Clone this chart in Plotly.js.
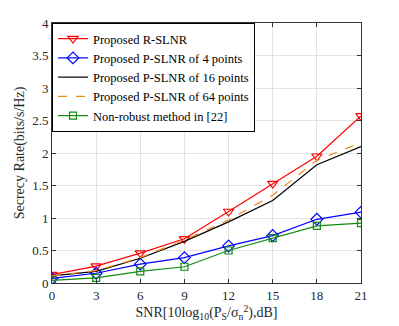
<!DOCTYPE html>
<html>
<head>
<meta charset="utf-8">
<script src="https://cdn.plot.ly/plotly-3.0.1.min.js"></script>
<style>
	body { margin: 0; background: #fff; }
	#chart { width: 399px; height: 326px; }
</style>
</head>
<body>
<div id="chart"></div>
<script>
const snr = [0, 3, 6, 9, 12, 15, 18, 21];

const rSlnr = [0.13, 0.26, 0.46, 0.68, 1.10, 1.53, 1.95, 2.57];
const pSlnr4 = [0.07, 0.15, 0.29, 0.39, 0.57, 0.73, 0.98, 1.09];
const pSlnr16 = [0.11, 0.18, 0.38, 0.64, 0.94, 1.27, 1.82, 2.10];
const pSlnr64 = [0.11, 0.19, 0.39, 0.66, 0.97, 1.35, 1.89, 2.16];
const nonRobust = [0.04, 0.08, 0.18, 0.25, 0.50, 0.69, 0.88, 0.92];

const names = [
	"Proposed R-SLNR",
	"Proposed P-SLNR of 4 points",
	"Proposed P-SLNR of 16 points",
	"Proposed P-SLNR of 64 points",
	"Non-robust method in [22]"
];

let traces = [
	{
		x: snr, y: rSlnr, name: names[0], mode: "lines+markers",
		line: { color: "#ff0000", width: 1.2 },
		marker: { symbol: "triangle-down-open", size: 9, color: "#ff0000", line: { width: 1.2 } }
	},
	{
		x: snr, y: pSlnr4, name: names[1], mode: "lines+markers",
		line: { color: "#0000ff", width: 1.2 },
		marker: { symbol: "diamond-open", size: 9, color: "#0000ff", line: { width: 1.2 } }
	},
	{
		x: snr, y: pSlnr16, name: names[2], mode: "lines",
		line: { color: "#000000", width: 1.2 }
	},
	{
		x: snr, y: pSlnr64, name: names[3], mode: "lines",
		line: { color: "#ee8a1a", width: 1.2, dash: "dash" }
	},
	{
		x: snr, y: nonRobust, name: names[4], mode: "lines+markers",
		line: { color: "#108a10", width: 1.2 },
		marker: { symbol: "square-open", size: 7, color: "#108a10", line: { width: 1.2 } }
	}
];

let layout = {
	width: 399,
	height: 326,
	margin: { l: 52, r: 38, t: 23, b: 43 },
	paper_bgcolor: "#fff",
	plot_bgcolor: "#fff",
	font: { family: "Liberation Serif", size: 13, color: "#262626" },
	showlegend: true,
	legend: {
		x: 0, y: 1, xanchor: "left", yanchor: "top",
		bgcolor: "#fff", bordercolor: "#000", borderwidth: 1,
		font: { family: "Liberation Serif", size: 12.5, color: "#000" },
		itemwidth: 30,
		tracegroupgap: 0
	},
	xaxis: {
		range: [0, 21],
		tickvals: snr,
		showgrid: true, gridcolor: "#e3e3e3",
		zeroline: false,
		showline: true, linecolor: "#333", mirror: "ticks",
		ticks: "inside", ticklen: 4, tickcolor: "#333",
		title: { text: "SNR[10log<sub>10</sub>(P<sub>S</sub>/σ<sub>n</sub><sup>2</sup>),dB]", font: { size: 14 }, standoff: 2 }
	},
	yaxis: {
		range: [0, 4],
		dtick: 0.5,
		showgrid: true, gridcolor: "#e3e3e3",
		zeroline: false,
		showline: true, linecolor: "#333", mirror: "ticks",
		ticks: "inside", ticklen: 4, tickcolor: "#333",
		title: { text: "Secrecy Rate(bits/s/Hz)", font: { size: 14 }, standoff: 4 }
	}
};

Plotly.newPlot("chart", traces, layout, { displayModeBar: false });
</script>
</body>
</html>
